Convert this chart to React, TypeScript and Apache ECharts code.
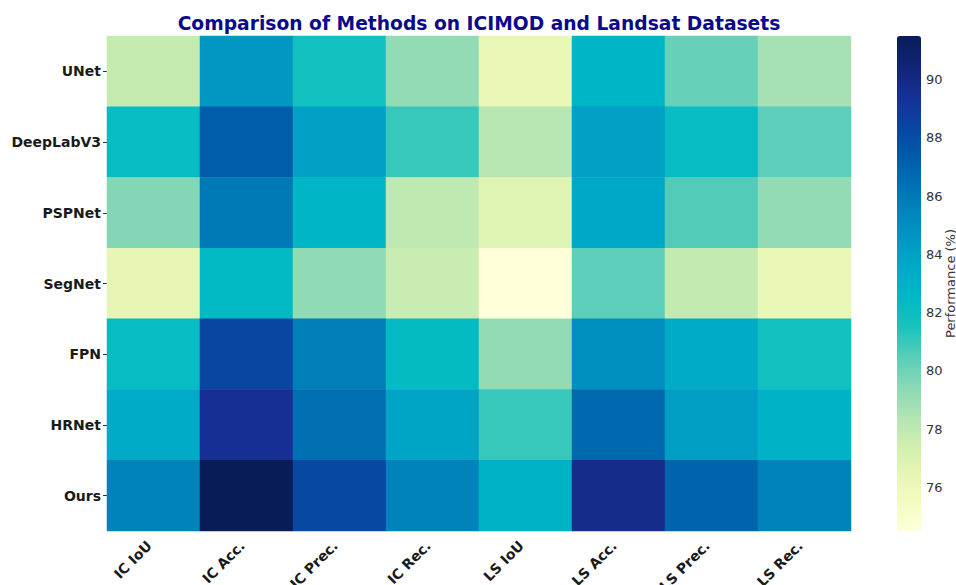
import React, { useEffect, useRef } from "react";
import * as echarts from "echarts";

const metrics = ["IC IoU", "IC Acc.", "IC Prec.", "IC Rec.", "LS IoU", "LS Acc.", "LS Prec.", "LS Rec."];
const methods = ["UNet", "DeepLabV3", "PSPNet", "SegNet", "FPN", "HRNet", "Ours"];

const unet = [77.8, 84.5, 81.8, 79.2, 76.2, 82.8, 80.2, 78.7];
const deeplab = [82.2, 87.3, 84.0, 81.0, 78.2, 84.0, 82.2, 80.4];
const pspnet = [79.6, 86.0, 82.8, 78.0, 76.8, 83.6, 80.6, 79.2];
const segnet = [76.4, 82.4, 79.3, 77.7, 74.5, 80.4, 77.9, 76.2];
const fpn = [82.2, 88.3, 85.8, 82.3, 79.2, 85.0, 83.4, 81.8];
const hrnet = [83.4, 89.5, 86.5, 83.8, 81.0, 86.8, 84.2, 83.0];
const ours = [85.6, 91.5, 88.2, 85.6, 83.0, 89.8, 87.0, 85.6];

const rows = [unet, deeplab, pspnet, segnet, fpn, hrnet, ours];
const colorbarTicks = [76, 78, 80, 82, 84, 86, 88, 90];
const vMin = 74.5;
const vMax = 91.5;

const palette = [
  "#ffffd9", "#f4fbc2", "#e6f6b3", "#cfeeb0", "#aee3b3", "#88d8b6",
  "#58cdb9", "#18c3bd", "#00b9c4", "#00aac8", "#0098c2", "#0085bb",
  "#006fb2", "#0058a8", "#0a42a0", "#172f95", "#0f2472", "#081d58",
];

export default function App() {
  const ref = useRef<HTMLDivElement>(null);
  useEffect(() => {
    if (!ref.current) return;
    const chart = echarts.init(ref.current, null, { renderer: "svg" });
    const data: number[][] = [];
    rows.forEach((r, yi) => r.forEach((v, xi) => data.push([xi, yi, v])));
    const font = "DejaVu Sans";
    chart.setOption({
      animation: false,
      backgroundColor: "#ffffff",
      title: {
        text: "Comparison of Methods on ICIMOD and Landsat Datasets",
        left: 474,
        textAlign: "center",
        top: 9,
        textStyle: { fontFamily: font, fontWeight: "bold", fontSize: 18.7, color: "#0a0a8a" },
      },
      grid: [
        { left: 107, top: 36, width: 744, height: 495, outerBoundsMode: "none", containLabel: false },
        { left: 897, top: 36, width: 24, height: 495, outerBoundsMode: "none", containLabel: false },
      ],
      xAxis: [
        {
          type: "category",
          data: metrics,
          gridIndex: 0,
          axisLine: { show: false },
          axisTick: { show: true, inside: true, alignWithLabel: true, length: 3, lineStyle: { color: "#333" } },
          axisLabel: {
            rotate: 45,
            margin: 8,
            padding: [0, 6, 0, 0],
            fontFamily: font,
            fontWeight: "bold",
            fontSize: 14,
            color: "#1a1a1a",
          },
          splitLine: { show: false },
        },
        { type: "value", gridIndex: 1, show: false, min: 0, max: 1 },
      ],
      yAxis: [
        {
          type: "category",
          data: methods,
          inverse: true,
          gridIndex: 0,
          axisLine: { show: false },
          axisTick: { show: true, alignWithLabel: true, length: 4, lineStyle: { color: "#333" } },
          axisLabel: { margin: 6, fontFamily: font, fontWeight: "bold", fontSize: 14, color: "#1a1a1a" },
          splitLine: { show: false },
        },
        {
          type: "value",
          gridIndex: 1,
          position: "right",
          min: vMin,
          max: vMax,
          axisLine: { show: false },
          splitLine: { show: false },
          axisTick: { show: true, length: 3, customValues: colorbarTicks, lineStyle: { color: "#444" } },
          axisLabel: { customValues: colorbarTicks, margin: 5, fontFamily: font, fontSize: 13, color: "#333" },
          name: "Performance (%)",
          nameLocation: "middle",
          nameRotate: 90,
          nameGap: 23,
          nameMoveOverlap: false,
          nameTextStyle: { fontFamily: font, fontSize: 13, color: "#333" },
        },
      ],
      visualMap: {
        type: "continuous",
        min: vMin,
        max: vMax,
        seriesIndex: 0,
        calculable: false,
        show: true,
        orient: "vertical",
        left: 897,
        top: 36,
        itemWidth: 24,
        itemHeight: 495,
        padding: 0,
        text: ["", ""],
        showLabel: false,
        inRange: { color: palette },
      },
      series: [
        {
          type: "heatmap",
          xAxisIndex: 0,
          yAxisIndex: 0,
          data,
          itemStyle: { borderWidth: 0 },
          emphasis: { disabled: true },
        },
      ],
    });
    return () => chart.dispose();
  }, []);
  return <div ref={ref} style={{ position: "absolute", left: 0, top: 0, width: 956, height: 585 }} />;
}
